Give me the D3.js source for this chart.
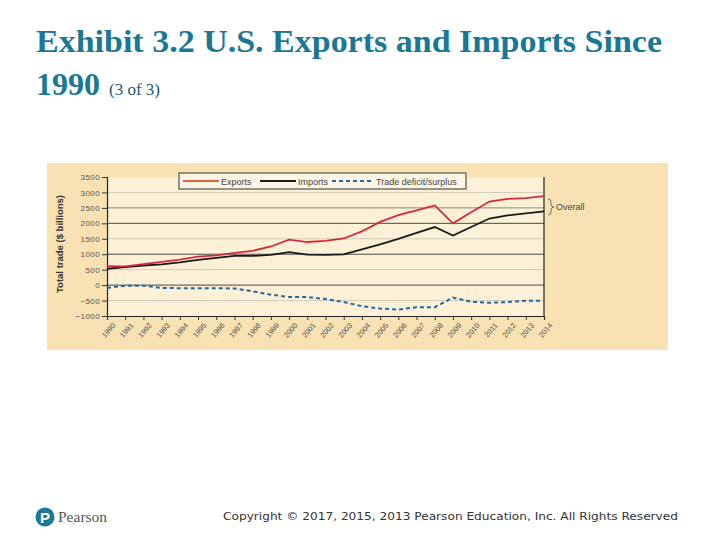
<!DOCTYPE html>
<html><head><meta charset="utf-8">
<script src="https://cdn.jsdelivr.net/npm/d3@7"></script>
<style>html,body{margin:0;padding:0;background:#fff;}</style>
</head><body>
<svg id="c" width="720" height="540"></svg>
<script>
const years = [1990,1991,1992,1993,1994,1995,1996,1997,1998,1999,2000,2001,2002,2003,2004,2005,2006,2007,2008,2009,2010,2011,2012,2013,2014];
const exportsVals = [610,605,680,750,825,920,965,1045,1110,1250,1470,1395,1430,1510,1740,2045,2265,2420,2580,2000,2360,2705,2790,2815,2880];
const importsVals = [530,580,635,670,735,820,880,945,945,980,1065,990,980,995,1160,1320,1495,1690,1880,1605,1880,2155,2255,2320,2385];
const balanceVals = [-90,-20,-20,-90,-100,-100,-100,-110,-200,-310,-385,-385,-450,-550,-680,-760,-790,-715,-715,-405,-540,-570,-550,-505,-505];
const yTicks = [-1000,-500,0,500,1000,1500,2000,2500,3000,3500];
const titleLine1 = "Exhibit 3.2 U.S. Exports and Imports Since";
const titleLine2 = "1990";
const titleSub = "(3 of 3)";
const legendLabels = ["Exports","Imports","Trade deficit/surplus"];
const yTitle = "Total trade ($ billions)";
const bracketLabel = "Overall";
const copyright = "Copyright © 2017, 2015, 2013 Pearson Education, Inc. All Rights Reserved";

const svg = d3.select("#c");
const teal = "#1a7896";

// Title
svg.append("text").attr("x",36).attr("y",52)
  .attr("font-family","Liberation Serif, Times New Roman, serif").attr("font-weight","bold")
  .attr("font-size",32).attr("fill",teal).attr("textLength",626).attr("lengthAdjust","spacingAndGlyphs").text(titleLine1);
const t2 = svg.append("text").attr("x",36).attr("y",95)
  .attr("font-family","Liberation Serif, Times New Roman, serif").attr("fill",teal);
t2.append("tspan").attr("font-weight","bold").attr("font-size",32).text(titleLine2);
t2.append("tspan").attr("font-size",17).attr("dx",9).attr("fill","#1d5a72").text(titleSub);

// Panel
svg.append("rect").attr("x",47).attr("y",163).attr("width",621).attr("height",187).attr("fill","#f8e2b3");

const x = d3.scaleLinear().domain([1990,2014]).range([107,544]);
const y = d3.scaleLinear().domain([-1000,3500]).range([316,177]);

svg.append("rect").attr("x",107).attr("y",177).attr("width",437).attr("height",139).attr("fill","#fcf1d6");

// gridlines
const gridColor = v => (v===0||v===1000||v===2000) ? "#4a4a4a" : (v===2500 ? "#8a8a80" : "#d2cbb8");
svg.append("g").selectAll("line").data(yTicks.filter(v=>v>-1000&&v<3500)).join("line")
  .attr("x1",107).attr("x2",544).attr("y1",d=>y(d)).attr("y2",d=>y(d))
  .attr("stroke",gridColor).attr("stroke-width",1);

// Y axis
const yAxis = d3.axisLeft(y).tickValues(yTicks).tickSize(5).tickPadding(2).tickFormat(d=>d<0?"\u2212"+Math.abs(d):d);
const gy = svg.append("g").attr("transform","translate(107,0)").call(yAxis);
gy.select(".domain").attr("stroke","#222").attr("stroke-width",1.2);
gy.selectAll(".tick line").attr("stroke","#333");
gy.selectAll("text").attr("font-family","Liberation Sans, Arial, sans-serif").attr("font-size",8).attr("letter-spacing",0.4).attr("fill","#555");

// right border
svg.append("line").attr("x1",544).attr("x2",544).attr("y1",177).attr("y2",316).attr("stroke","#222").attr("stroke-width",1.2);

// X axis
const xAxis = d3.axisBottom(x).tickValues(years).tickSize(4).tickFormat(d3.format("d"));
const gx = svg.append("g").attr("transform","translate(0,316)").call(xAxis);
gx.select(".domain").attr("stroke","#222").attr("stroke-width",1.2);
gx.selectAll(".tick line").attr("stroke","#333");
gx.selectAll("text").attr("font-family","Liberation Sans, Arial, sans-serif").attr("font-size",7.5).attr("fill","#555")
  .attr("text-anchor","end").attr("dy",0).attr("transform","translate(3,5) rotate(-50)");

// Y title
svg.append("text").attr("transform","translate(63,244) rotate(-90)").attr("text-anchor","middle")
  .attr("font-family","Liberation Sans, Arial, sans-serif").attr("font-weight","bold").attr("font-size",9.5).attr("fill","#333").text(yTitle);

// Lines
const line = vals => d3.line().x((d,i)=>x(years[i])).y(d=>y(d))(vals);
svg.append("path").attr("d",line(balanceVals)).attr("fill","none").attr("stroke","#1f6b9c").attr("stroke-width",2).attr("stroke-dasharray","4,3");
svg.append("path").attr("d",line(importsVals)).attr("fill","none").attr("stroke","#1a1a1a").attr("stroke-width",1.8);
svg.append("path").attr("d",line(exportsVals)).attr("fill","none").attr("stroke","#d8283e").attr("stroke-width",1.8);

// Legend
const lg = svg.append("g");
lg.append("rect").attr("x",179).attr("y",173).attr("width",287).attr("height",16).attr("fill","#fdf6e6").attr("stroke","#333").attr("stroke-width",1);
const legItems = [
  {x1:183,x2:219,tx:221,color:"#e5603c",dash:null},
  {x1:260,x2:296,tx:298,color:"#1a1a1a",dash:null},
  {x1:332,x2:372,tx:376,color:"#1f6b9c",dash:"4,3"}
];
legItems.forEach((it,i)=>{
  lg.append("line").attr("x1",it.x1).attr("x2",it.x2).attr("y1",181).attr("y2",181)
    .attr("stroke",it.color).attr("stroke-width",2).attr("stroke-dasharray",it.dash);
  lg.append("text").attr("x",it.tx).attr("y",184.5).attr("font-family","Liberation Sans, Arial, sans-serif")
    .attr("font-size",9).attr("fill","#444").text(legendLabels[i]);
});

// Bracket
svg.append("path").attr("d","M548,199 Q551,199 551,202 L551,204.5 Q551,206.5 554,207 Q551,207.5 551,209.5 L551,212 Q551,215 548,215")
  .attr("fill","none").attr("stroke","#555").attr("stroke-width",0.8);
svg.append("text").attr("x",556).attr("y",209.5).attr("font-family","Liberation Sans, Arial, sans-serif")
  .attr("font-size",9).attr("fill","#444").text(bracketLabel);

// Footer
svg.append("circle").attr("cx",45).attr("cy",517).attr("r",9.5).attr("fill","#1b7896");
svg.append("text").attr("x",45).attr("y",522.5).attr("text-anchor","middle").attr("font-family","Liberation Sans, Arial, sans-serif")
  .attr("font-weight","bold").attr("font-size",15).attr("fill","#fff").text("P");
svg.append("text").attr("x",58).attr("y",522).attr("font-family","Liberation Serif, Times New Roman, serif")
  .attr("font-size",15.5).attr("fill","#555").text("Pearson");
svg.append("text").attr("x",223).attr("y",520).attr("font-family","DejaVu Sans, Verdana, sans-serif")
  .attr("font-size",11).attr("fill","#333").attr("textLength",455).attr("lengthAdjust","spacingAndGlyphs").text(copyright);
</script>
</body></html>
